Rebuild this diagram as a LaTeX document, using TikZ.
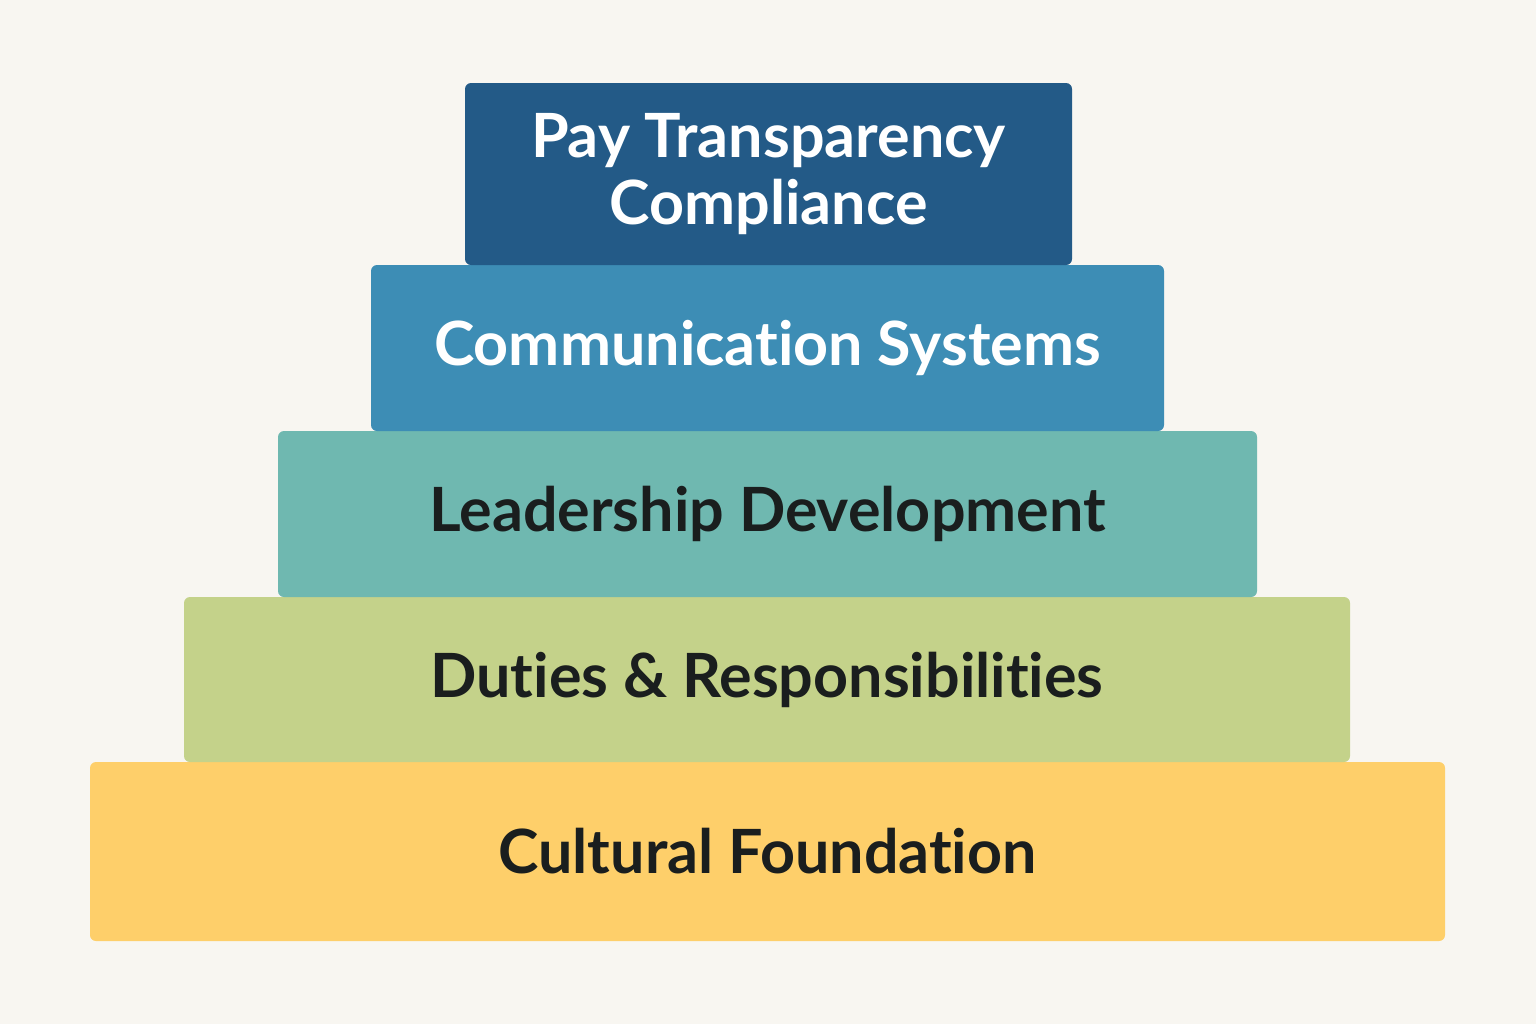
\documentclass[tikz,border=0pt]{standalone}
\usepackage{fontspec}
\setmainfont{Lato}[Ligatures={NoCommon}]
\definecolor{bgcol}{HTML}{F8F6F1}
\definecolor{tierone}{HTML}{235A87}
\definecolor{tiertwo}{HTML}{3D8DB5}
\definecolor{tierthree}{HTML}{6FB8B0}
\definecolor{tierfour}{HTML}{C4D28A}
\definecolor{tierfive}{HTML}{FECF6A}
\definecolor{darktext}{HTML}{1A1E1E}
\tikzset{
  tier/.style={rectangle, rounded corners=3pt, inner sep=0pt, align=center,
    font=\bfseries\fontsize{30.5}{33.5}\selectfont}
}
\begin{document}
\begin{tikzpicture}[x=0.5pt, y=-0.5pt]
        % Background
        \fill[bgcol] (0,0) rectangle (1536,1024);
        \useasboundingbox (0,0) rectangle (1536,1024);
        % Base tier
        \node[tier, fill=tierfive, text=darktext, minimum width=677.5pt, minimum height=89.5pt] (foundation) at (767.5,851.5) {Cultural Foundation};
        % Second tier
        \node[tier, fill=tierfour, text=darktext, minimum width=583pt, minimum height=82.5pt] (duties) at (767,679.5) {Duties \& Responsibilities};
        % Third tier
        \node[tier, fill=tierthree, text=darktext, minimum width=489.5pt, minimum height=83pt] (leadership) at (767.5,514) {Leadership Development};
        % Fourth tier
        \node[tier, fill=tiertwo, text=white, minimum width=396.5pt, minimum height=83pt] (communication) at (767.5,348) {Communication Systems};
        % Top tier
        \node[tier, fill=tierone, text=white, minimum width=303.5pt, minimum height=91pt] (compliance) at (768.5,174) {Pay Transparency\\Compliance};
      \end{tikzpicture}
\end{document}
